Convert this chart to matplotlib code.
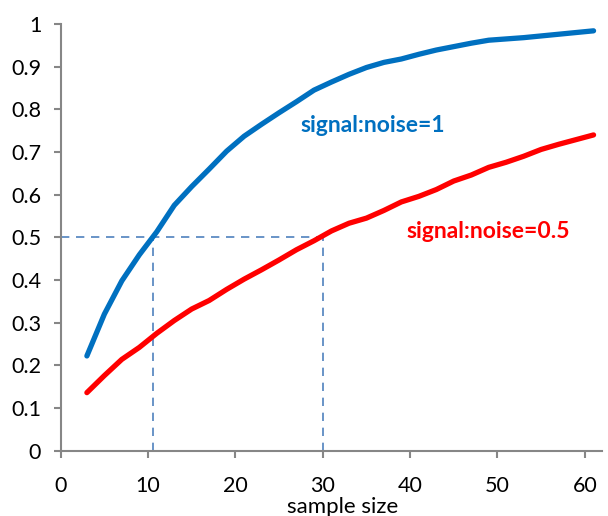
import numpy as np
import matplotlib
matplotlib.use("Agg")
import matplotlib.pyplot as plt

plt.rcParams['font.family'] = ['Lato', 'DejaVu Sans']

# sample size
sample_sizes = [3, 5, 7, 9, 11, 13, 15, 17, 19, 21, 23, 25, 27, 29, 31,
                33, 35, 37, 39, 41, 43, 45, 47, 49, 51, 53, 55, 57, 59, 61]
# signal:noise = 1
power_snr1 = [0.222, 0.320, 0.398, 0.459, 0.513, 0.575, 0.619, 0.660, 0.702, 0.737,
              0.765, 0.792, 0.818, 0.845, 0.864, 0.882, 0.898, 0.910, 0.918, 0.929,
              0.939, 0.947, 0.955, 0.962, 0.965, 0.968, 0.972, 0.976, 0.980, 0.984]
# signal:noise = 0.5
power_snr05 = [0.136, 0.176, 0.214, 0.242, 0.275, 0.305, 0.332, 0.352, 0.378, 0.402,
               0.424, 0.447, 0.471, 0.492, 0.515, 0.533, 0.545, 0.563, 0.583, 0.596,
               0.612, 0.632, 0.646, 0.664, 0.676, 0.690, 0.706, 0.718, 0.729, 0.740]

target_level = 0.5
cut_sizes = [10.6, 30]

blue = '#0070C0'
red = '#FF0000'
grey = '#868686'
dash_col = '#4F81BD'

fig = plt.figure(figsize=(6.08, 5.16), dpi=100)
ax = fig.add_axes([0.0998, 0.1266, 0.8908, 0.8269])

# guide lines at 50 %
ax.plot([0, max(cut_sizes)], [target_level, target_level], color=dash_col, lw=1.2,
        dashes=(5, 4), zorder=1)
for c in cut_sizes:
    ax.plot([c, c], [0, target_level], color=dash_col, lw=1.2, dashes=(5, 4), zorder=1)

ax.plot(sample_sizes, power_snr1, color=blue, lw=3.8, solid_capstyle='round', zorder=3)
ax.plot(sample_sizes, power_snr05, color=red, lw=3.8, solid_capstyle='round', zorder=3)

ax.text(27.4, 0.763, 'signal:noise=1', color=blue, fontsize=16.5, fontweight='bold',
        va='center', ha='left')
ax.text(39.6, 0.513, 'signal:noise=0.5', color=red, fontsize=16.5, fontweight='bold',
        va='center', ha='left')

ax.set_xlim(0, 62)
ax.set_ylim(0, 1)
ax.set_xticks(np.arange(0, 61, 10))
ax.set_yticks(np.arange(0, 1.01, 0.1))
ax.set_yticklabels(['0', '0.1', '0.2', '0.3', '0.4', '0.5', '0.6', '0.7', '0.8', '0.9', '1'])

for s in ['top', 'right']:
    ax.spines[s].set_visible(False)
for s in ['left', 'bottom']:
    ax.spines[s].set_color(grey)
    ax.spines[s].set_linewidth(1.5)
ax.tick_params(axis='both', colors=grey, width=1.5, length=5, labelcolor='black',
               labelsize=15.5)
ax.tick_params(axis='y', pad=9)
ax.tick_params(axis='x', pad=13)

ax.set_xlabel('sample size', fontsize=16, labelpad=0)
ax.xaxis.set_label_coords(0.52, -0.108)

fig.savefig('out.png', dpi=100)
